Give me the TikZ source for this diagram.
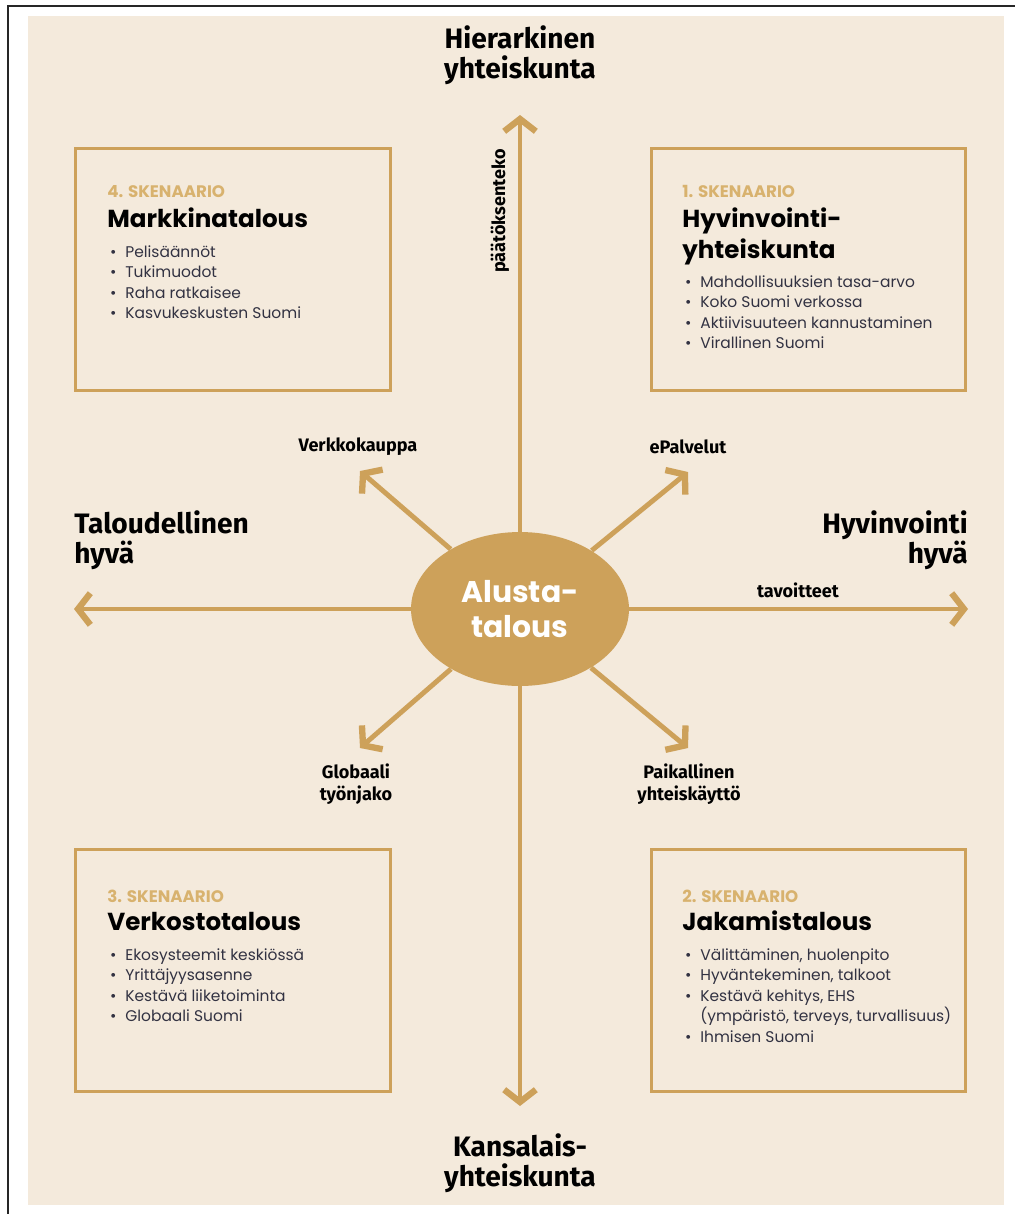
\documentclass[tikz,border=0pt]{standalone}
\usepackage{fontspec}
\setmainfont{Poppins}
\newfontfamily\labelfont{Fira Sans}
\usetikzlibrary{arrows.meta,positioning,shapes.geometric}
\definecolor{bgbeige}{RGB}{244,234,220}
\definecolor{gold}{RGB}{205,161,90}
\definecolor{goldlight}{RGB}{216,178,110}
\definecolor{itemgray}{RGB}{50,50,66}

\begin{document}
\begin{tikzpicture}[x=0.02cm, y=-0.02cm,
  axis/.style={draw=gold, line width=2.8pt, -{Straight Barb[length=7pt,width=18pt,line width=3.6pt]}},
  scenbox/.style={draw=gold, line width=1.7pt, minimum width=6.3cm, minimum height=4.84cm, inner sep=0pt},
  skenlabel/.style={font=\bfseries\fontsize{9.5}{11}\selectfont, text=goldlight, inner sep=0pt, anchor=base west},
  scentitle/.style={font=\bfseries\fontsize{14}{17}\selectfont, inner sep=0pt, anchor=base west},
  item/.style={font=\fontsize{8.8}{11}\selectfont, text=itemgray, inner sep=0pt, anchor=base west},
  axislabel/.style={font=\labelfont\bfseries\fontsize{16}{17}\selectfont, align=center, inner sep=0pt},
  smalllabel/.style={font=\labelfont\bfseries\fontsize{10.3}{12.5}\selectfont, align=center, inner sep=0pt}]
\useasboundingbox (0,0) rectangle (1015,1214);
\fill[bgbeige] (28,16) rectangle (1004,1205);
\draw[line width=1.3pt, black!85] (8,1214) -- (8,6) -- (1015,6);

% hub and axes
\node[ellipse, fill=gold, minimum width=4.36cm, minimum height=3.08cm, inner sep=0pt, text=white,
  font=\bfseries\fontsize{17}{19.5}\selectfont, align=center] (hub) at (520,609) {Alusta-\\talous};
\coordinate (up) at (520,115);
\coordinate (down) at (520,1106);
\coordinate (left) at (74,609);
\coordinate (right) at (968,609);
\coordinate (nw) at (360,471);
\coordinate (ne) at (688,472);
\coordinate (sw) at (360,748);
\coordinate (se) at (688,748);
\foreach \t in {up,down,left,right,nw,ne,sw,se}
  \draw[axis] (hub) -- (\t);

% axis labels
\node[axislabel] (top) at (520,55) {Hierarkinen\\yhteiskunta};
\node[axislabel] (bottom) at (520,1163) {Kansalais-\\yhteiskunta};
\node[axislabel, anchor=west, align=left] (west) at (74,540) {Taloudellinen\\hyvä};
\node[axislabel, anchor=east, align=right] (east) at (968,540) {Hyvinvointi\\hyvä};
\node[smalllabel] (shop) at (358,447) {Verkkokauppa};
\node[smalllabel] (eserv) at (688,447) {ePalvelut};
\node[smalllabel] (global) at (356,784) {Globaali\\työnjako};
\node[smalllabel] (local) at (689,784) {Paikallinen\\yhteiskäyttö};
\node[smalllabel] (goals) at (798,590) {tavoitteet};
\node[smalllabel, rotate=90] (decide) at (500,211) {päätöksenteko};

% scenario boxes
\node[scenbox] (box4) at (233,269.5) {};
\node[scenbox] (box1) at (808.5,269.5) {};
\node[scenbox] (box3) at (233,970.5) {};
\node[scenbox] (box2) at (808.5,970.5) {};

\node[skenlabel] (s4) at (107,197) {4. SKENAARIO};
\node[scentitle] (t4) at (107,227) {Markkinatalous};
\foreach \t [count=\i] in {Pelisäännöt,Tukimuodot,Raha ratkaisee,Kasvukeskusten Suomi}
  \node[item] (i4-\i) at (125,{257.5+20.4*(\i-1)}) {\llap{\textbullet\hspace{5pt}}\t};

\node[skenlabel] (s1) at (682,197) {1. SKENAARIO};
\node[scentitle] (t1a) at (682,227) {Hyvinvointi-};
\node[scentitle] (t1b) at (682,258) {yhteiskunta};
\foreach \t [count=\i] in {Mahdollisuuksien tasa-arvo,Koko Suomi verkossa,Aktiivisuuteen kannustaminen,Virallinen Suomi}
  \node[item] (i1-\i) at (700,{287.5+20.4*(\i-1)}) {\llap{\textbullet\hspace{5pt}}\t};

\node[skenlabel] (s3) at (107,902) {3. SKENAARIO};
\node[scentitle] (t3) at (107,930) {Verkostotalous};
\foreach \t [count=\i] in {Ekosysteemit keskiössä,Yrittäjyysasenne,Kestävä liiketoiminta,Globaali Suomi}
  \node[item] (i3-\i) at (125,{960.5+20.4*(\i-1)}) {\llap{\textbullet\hspace{5pt}}\t};

\node[skenlabel] (s2) at (682,902) {2. SKENAARIO};
\node[scentitle] (t2) at (682,930) {Jakamistalous};
\foreach \b/\t [count=\i] in {1/{Välittäminen, huolenpito},1/{Hyväntekeminen, talkoot},1/{Kestävä kehitys, EHS},0/{(ympäristö, terveys, turvallisuus)},1/{Ihmisen Suomi}}
  \node[item] (i2-\i) at (700,{960.5+20.4*(\i-1)}) {\ifnum\b=1 \llap{\textbullet\hspace{5pt}}\fi\t};
\end{tikzpicture}
\end{document}
